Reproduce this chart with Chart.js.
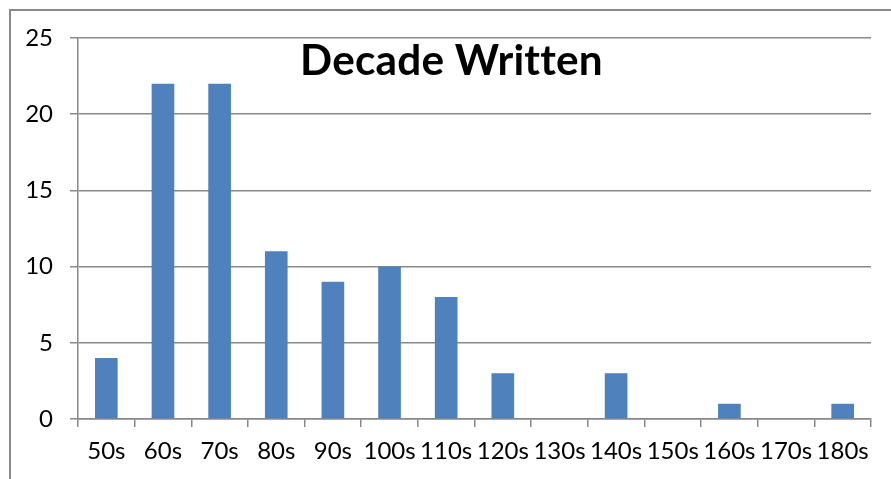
<!DOCTYPE html>
<html>
<head>
<meta charset="utf-8">
<script src="https://cdn.jsdelivr.net/npm/chart.js@4"></script>
<style>
  html, body { margin: 0; padding: 0; background: #fff; }
  #wrap { position: relative; width: 891px; height: 479px; }
  #frame { position: absolute; left: 9px; top: 9px; right: 0; bottom: 0;
           border-left: 2px solid #8a8a8a; border-top: 2px solid #8a8a8a; }
  canvas { position: absolute; left: 0; top: 0; }
</style>
</head>
<body>
<div id="wrap">
  <div id="frame"></div>
  <canvas id="chart" width="891" height="479"></canvas>
</div>
<script>
// Datos
const decades = ['50s', '60s', '70s', '80s', '90s', '100s', '110s', '120s', '130s', '140s', '150s', '160s', '170s', '180s'];
const counts = [4, 22, 22, 11, 9, 10, 8, 3, 0, 3, 0, 1, 0, 1];
const yTicks = [0, 5, 10, 15, 20, 25];
const chartTitle = 'Decade Written';

const gridGray = '#888888';
const fontFamily = 'Lato, "Open Sans", sans-serif';

// Título dibujado dentro del área del gráfico (estilo Excel)
const titlePlugin = {
    id: 'insideTitle',
    afterDraw(chart) {
        const ctx = chart.ctx;
        ctx.save();
        ctx.letterSpacing = '0.2px'; // evita la ligadura "tt"
        let size = 40;
        ctx.font = 'bold ' + size + 'px ' + fontFamily;
        const w = ctx.measureText(chartTitle).width;
        size = size * 303 / w;
        ctx.font = 'bold ' + size + 'px ' + fontFamily;
        ctx.fillStyle = '#000';
        ctx.textAlign = 'center';
        ctx.textBaseline = 'alphabetic';
        ctx.fillText(chartTitle, 451.5, 75);
        ctx.restore();
    }
};

const ctx = document.getElementById('chart').getContext('2d');
new Chart(ctx, {
    type: 'bar',
    data: {
        labels: decades,
        datasets: [{
            data: counts,
            backgroundColor: '#4F81BD',
            borderWidth: 0,
            categoryPercentage: 1.0,
            barPercentage: 0.4
        }]
    },
    options: {
        responsive: false,
        animation: false,
        layout: { padding: { top: 38, right: 20, bottom: 0, left: 0 } },
        plugins: { legend: { display: false }, title: { display: false }, tooltip: { enabled: false } },
        scales: {
            x: {
                offset: true,
                grid: { offset: true, drawOnChartArea: false, color: gridGray, tickLength: 8, lineWidth: 1.5 },
                border: { color: gridGray, width: 1.5 },
                ticks: { color: '#000', font: { family: fontFamily, size: 24 }, padding: 10, maxRotation: 0, autoSkip: false },
                afterFit(scale) { scale.height = 60; }
            },
            y: {
                min: 0,
                max: 25,
                afterBuildTicks(scale) { scale.ticks = yTicks.map(v => ({ value: v })); },
                grid: { color: gridGray, tickLength: 8, lineWidth: 1.5 },
                border: { color: gridGray, width: 1.5 },
                ticks: { color: '#000', font: { family: fontFamily, size: 24 }, padding: 17 },
                afterFit(scale) { scale.width = 78; }
            }
        }
    },
    plugins: [titlePlugin]
});
</script>
</body>
</html>
